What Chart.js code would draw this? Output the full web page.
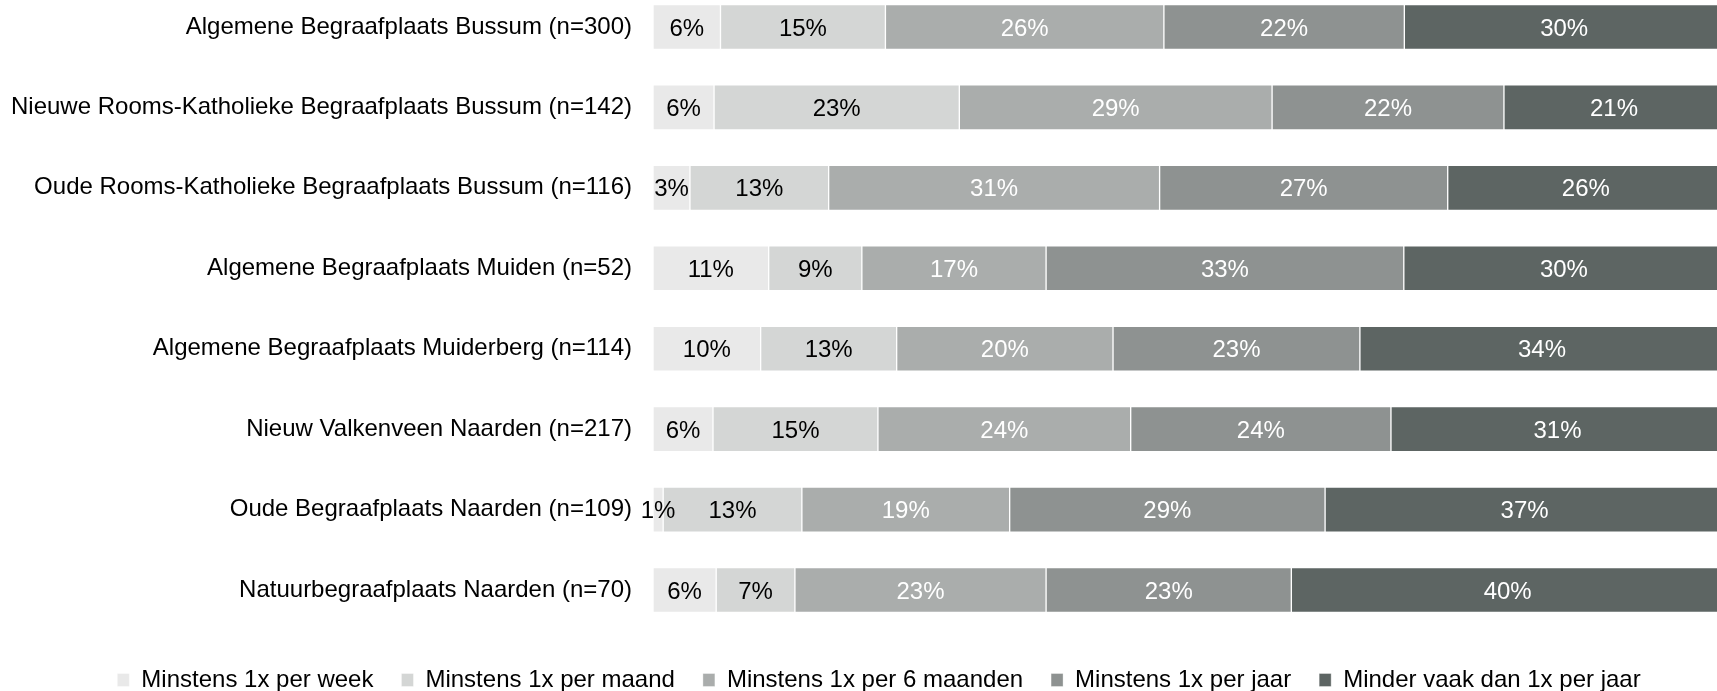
<!DOCTYPE html>
<html>
<head>
<meta charset="utf-8">
<script src="https://cdn.jsdelivr.net/npm/chart.js@4"></script>
<style>
  html, body { margin: 0; padding: 0; background: #ffffff; overflow: hidden; }
  #view { width: 1717px; height: 691px; overflow: hidden; position: relative; }
  #wrap { width: 1758px; height: 702px; position: absolute; left: 0; top: 0; }
</style>
</head>
<body>
<div id="view"><div id="wrap"><canvas id="c"></canvas></div></div>
<script>
const categories = [
  'Algemene Begraafplaats Bussum (n=300)',
  'Nieuwe Rooms-Katholieke Begraafplaats Bussum (n=142)',
  'Oude Rooms-Katholieke Begraafplaats Bussum (n=116)',
  'Algemene Begraafplaats Muiden (n=52)',
  'Algemene Begraafplaats Muiderberg (n=114)',
  'Nieuw Valkenveen Naarden (n=217)',
  'Oude Begraafplaats Naarden (n=109)',
  'Natuurbegraafplaats Naarden (n=70)'
];
const seriesNames = [
  'Minstens 1x per week',
  'Minstens 1x per maand',
  'Minstens 1x per 6 maanden',
  'Minstens 1x per jaar',
  'Minder vaak dan 1x per jaar'
];
const perWeek     = [6.3, 5.7, 3.45, 10.8, 10.05, 5.6, 0.95, 5.9];
const perMaand    = [15.4, 22.9, 12.95, 8.7, 12.7, 15.4, 12.95, 7.35];
const per6Maanden = [26.0, 29.2, 30.9, 17.2, 20.2, 23.6, 19.4, 23.45];
const perJaar     = [22.45, 21.65, 26.9, 33.4, 23.05, 24.3, 29.45, 22.9];
const minderVaak  = [29.85, 20.55, 25.8, 29.9, 34.0, 31.1, 37.25, 40.4];

const seriesValues = [perWeek, perMaand, per6Maanden, perJaar, minderVaak];
const fills = ['#e9e9e9', '#d4d6d5', '#aaadac', '#8e9291', '#5d6563'];
const labelColors = ['#000000', '#000000', '#ffffff', '#ffffff', '#ffffff'];
const FONT = '"Liberation Sans", Arial, sans-serif';

const valueLabels = {
  id: 'valueLabels',
  afterDatasetsDraw(chart) {
    const ctx = chart.ctx;
    ctx.save();
    ctx.font = '24px ' + FONT;
    ctx.textAlign = 'center';
    ctx.textBaseline = 'middle';
    chart.data.datasets.forEach((ds, i) => {
      const meta = chart.getDatasetMeta(i);
      meta.data.forEach((el, j) => {
        const p = el.getProps(['x', 'y', 'base'], true);
        ctx.fillStyle = labelColors[i];
        ctx.fillText(Math.round(ds.data[j]) + '%', (p.x + p.base) / 2, p.y + 2);
      });
    });
    ctx.restore();
  }
};

new Chart(document.getElementById('c'), {
  type: 'bar',
  data: {
    labels: categories,
    datasets: seriesValues.map((vals, i) => ({
      label: seriesNames[i],
      data: vals,
      backgroundColor: fills[i],
      borderColor: 'rgba(255,255,255,0.35)',
      borderWidth: 1,
      borderSkipped: false,
      barThickness: 45,
      clip: false
    }))
  },
  options: {
    indexAxis: 'y',
    responsive: true,
    maintainAspectRatio: false,
    animation: false,
    layout: { padding: { top: 27, left: 0, right: 0, bottom: 0 } },
    scales: {
      x: {
        stacked: true,
        min: 0,
        max: 103.17,
        display: true,
        grid: { display: false, drawTicks: false },
        border: { display: false },
        ticks: { display: false },
        afterFit: s => { s.height = 50; s.paddingLeft = 0; s.paddingRight = 0; }
      },
      y: {
        stacked: true,
        offset: false,
        grid: { display: false, drawTicks: false },
        border: { display: false },
        ticks: {
          color: '#000000',
          padding: 21,
          font: { family: FONT, size: 24 }
        },
        afterFit: s => { s.width = 653; s.paddingTop = 0; s.paddingBottom = 0; }
      }
    },
    plugins: {
      legend: {
        position: 'bottom',
        labels: {
          boxWidth: 12,
          boxHeight: 13,
          padding: 28,
          color: '#000000',
          font: { family: FONT, size: 24 }
        }
      },
      tooltip: { enabled: false }
    }
  },
  plugins: [valueLabels]
});
</script>
</body>
</html>
